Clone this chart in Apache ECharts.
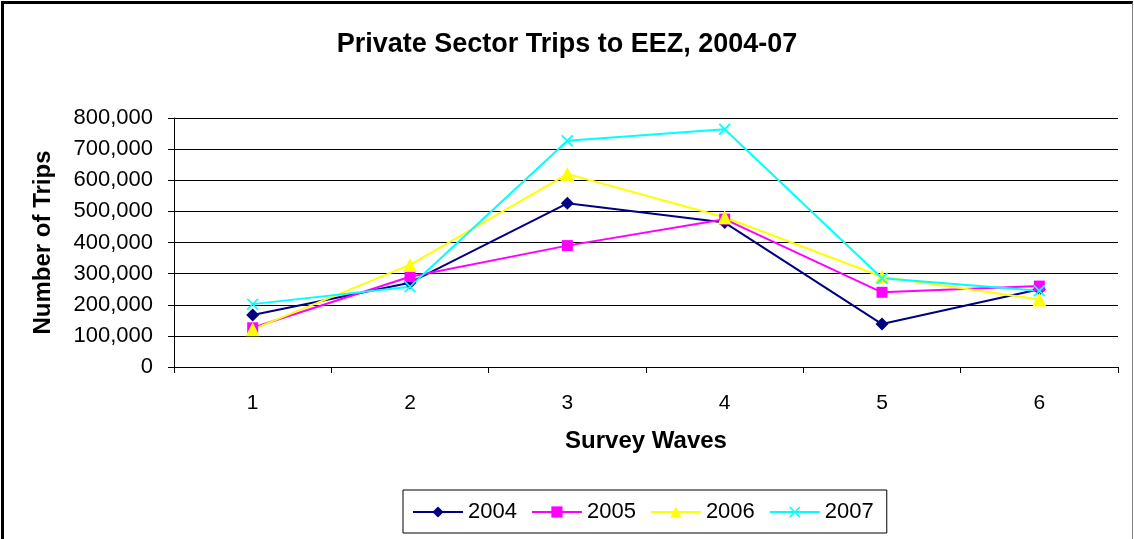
<!DOCTYPE html>
<html>
<head>
<meta charset="utf-8">
<title>Private Sector Trips to EEZ, 2004-07</title>
<script src="https://cdn.jsdelivr.net/npm/echarts@6/dist/echarts.min.js"></script>
<style>
  html, body {
    margin: 0;
    padding: 0;
    background: #ffffff;
  }
  #chart_box {
    position: relative;
    width: 1134px;
    height: 539px;
  }
  #trips_chart {
    position: absolute;
    left: 0;
    top: 0;
    width: 1134px;
    height: 539px;
  }
  /* frame of the original picture: heavy left/top, thin grey right */
  .frame {
    position: absolute;
    left: 1px;
    top: 1px;
    width: 1132px;
    height: 538px;
    border-left: 3px solid #000000;
    border-top: 3px solid #000000;
    border-right: 1px solid #808080;
    box-sizing: border-box;
    pointer-events: none;
  }
</style>
</head>
<body>
<div id="chart_box">
  <div id="trips_chart"></div>
  <div class="frame"></div>
</div>
<script>
  const waves = ["1", "2", "3", "4", "5", "6"];
  const trips2004 = [167000, 271000, 526000, 464000, 138000, 250000];
  const trips2005 = [126000, 290000, 390000, 475000, 240000, 260000];
  const trips2006 = [121000, 328000, 620000, 481000, 290000, 217000];
  const trips2007 = [202000, 258000, 727000, 764000, 285000, 245000];

  const fontName = "Liberation Sans, Arial, sans-serif";
  // filled X mark, ECharts fills symbol paths so it needs some area
  const crossMark =
    "path://M0,1L1,0L5,4L9,0L10,1L6,5L10,9L9,10L5,6L1,10L0,9L4,5Z";

  const chart = echarts.init(document.getElementById("trips_chart"));

  function lineSeries(name, data, color, symbol, size) {
    return {
      name: name,
      type: "line",
      data: data,
      symbol: symbol,
      symbolSize: size,
      showAllSymbol: true,
      lineStyle: { color: color, width: 2 },
      itemStyle: { color: color },
      emphasis: { disabled: true },
    };
  }

  const option = {
    animation: false,
    textStyle: { fontFamily: fontName },
    title: {
      text: "Private Sector Trips to EEZ, 2004-07",
      left: "center",
      top: 26,
      textStyle: {
        fontFamily: fontName,
        fontSize: 27,
        fontWeight: "bold",
        color: "#000000",
      },
    },
    grid: {
      left: 174,
      right: 16,
      top: 118,
      bottom: 172,
    },
    legend: {
      data: ["2004", "2005", "2006", "2007"],
      left: 403,
      top: 490,
      padding: [11, 13, 10, 9],
      borderColor: "#000000",
      borderWidth: 1,
      backgroundColor: "#ffffff",
      itemWidth: 50,
      itemHeight: 14,
      itemGap: 14,
      textStyle: {
        fontFamily: fontName,
        fontSize: 22,
        color: "#000000",
      },
    },
    xAxis: {
      type: "category",
      data: waves,
      boundaryGap: true,
      name: "Survey Waves",
      nameLocation: "middle",
      nameGap: 62,
      nameTextStyle: {
        fontFamily: fontName,
        fontSize: 24,
        fontWeight: "bold",
        color: "#000000",
      },
      axisLine: { lineStyle: { color: "#000000", width: 1 } },
      axisTick: { show: true, length: 6, lineStyle: { color: "#000000" } },
      axisLabel: {
        fontFamily: fontName,
        fontSize: 21,
        color: "#000000",
        margin: 26,
      },
      splitLine: { show: false },
    },
    yAxis: {
      type: "value",
      min: 0,
      max: 800000,
      interval: 100000,
      name: "Number of Trips",
      nameLocation: "middle",
      nameGap: 119,
      nameTextStyle: {
        fontFamily: fontName,
        fontSize: 24,
        fontWeight: "bold",
        color: "#000000",
      },
      axisLine: { show: true, lineStyle: { color: "#000000", width: 1 } },
      axisTick: { show: true, length: 6, lineStyle: { color: "#000000" } },
      axisLabel: {
        fontFamily: fontName,
        fontSize: 22,
        color: "#000000",
        margin: 21,
        formatter: function (v) {
          return v.toLocaleString("en-US");
        },
      },
      splitLine: { show: true, lineStyle: { color: "#000000", width: 1 } },
    },
    series: [
      lineSeries("2004", trips2004, "#000080", "diamond", 13),
      lineSeries("2005", trips2005, "#FF00FF", "rect", 11),
      lineSeries("2006", trips2006, "#FFFF00", "triangle", 14),
      lineSeries("2007", trips2007, "#00FFFF", crossMark, 12),
    ],
  };

  chart.setOption(option);
</script>
</body>
</html>
